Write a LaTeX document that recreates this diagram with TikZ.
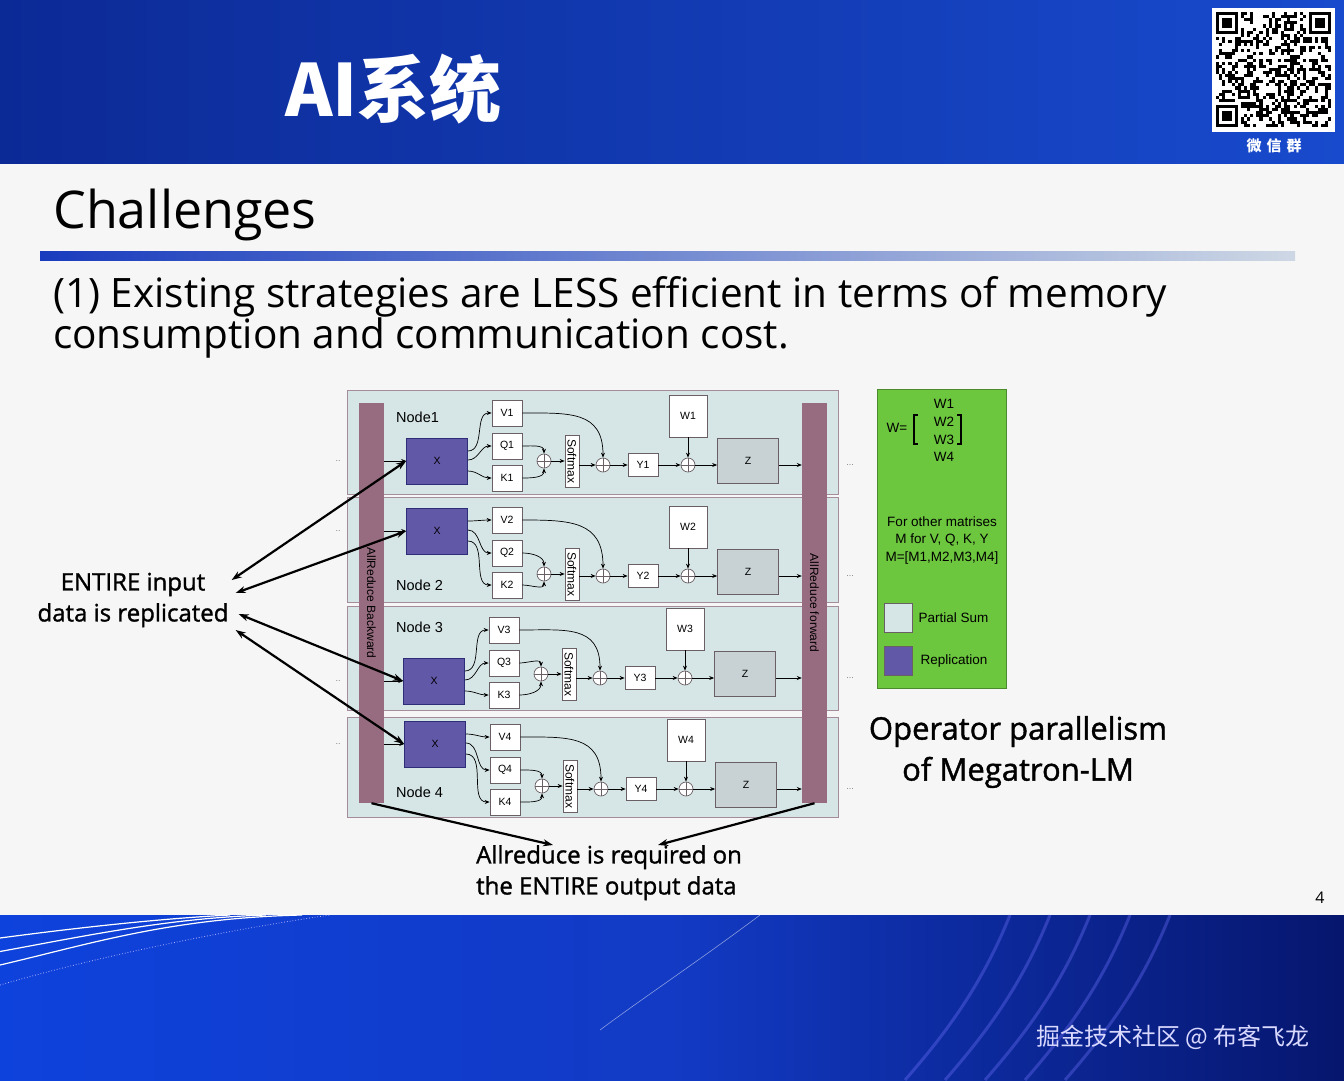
\documentclass[tikz,border=0pt]{standalone}
\usepackage{fontspec}
\setmainfont{Open Sans}
\newfontfamily\semi[FakeBold=1.3]{Open Sans}
\newfontfamily\cjk{Noto Sans CJK SC}
\newfontfamily\ar{Liberation Sans}
\usetikzlibrary{arrows.meta,positioning}
\definecolor{bannerA}{RGB}{12,42,150}
\definecolor{bannerB}{RGB}{24,74,205}
\definecolor{footA}{RGB}{14,66,220}
\definecolor{footM}{RGB}{18,58,196}
\definecolor{footB}{RGB}{6,22,110}
\definecolor{slidebg}{RGB}{246,246,246}
\definecolor{ruleA}{RGB}{25,60,190}
\definecolor{ruleB}{RGB}{205,215,228}
\definecolor{pnlF}{RGB}{214,229,229}
\definecolor{pnlD}{RGB}{165,140,155}
\definecolor{repF}{RGB}{98,88,168}
\definecolor{repD}{RGB}{45,45,120}
\definecolor{psF}{RGB}{200,210,212}
\definecolor{barF}{RGB}{152,108,128}
\definecolor{legF}{RGB}{108,198,62}
\definecolor{boxD}{RGB}{105,95,100}

\begin{document}
\begin{tikzpicture}[x=1pt,y=1pt,>={Stealth[length=5pt,width=4pt]},
  font=\ar\fontsize{10.5}{12}\selectfont,
  pnl/.style={draw=pnlD,fill=pnlF,line width=0.8pt},
  blk/.style={draw=boxD,fill=white,line width=0.7pt,inner sep=0pt,minimum width=30pt,minimum height=26pt},
  xb/.style={blk,draw=repD,fill=repF,minimum width=61pt,minimum height=46pt},
  zb/.style={blk,fill=psF,minimum width=61pt,minimum height=45pt},
  sm/.style={blk,minimum width=14pt,minimum height=52pt,font=\ar\fontsize{12}{12}\selectfont},
  pl/.style={circle,draw=boxD,fill=white,line width=0.7pt,minimum size=14pt,inner sep=0pt,
    path picture={\draw[boxD] (path picture bounding box.north)--(path picture bounding box.south)
      (path picture bounding box.west)--(path picture bounding box.east);}},
  rbar/.style={fill=barF,minimum width=25pt,minimum height=400pt,inner sep=0pt,font=\ar\fontsize{12}{12}\selectfont},
  ln/.style={line width=0.7pt,->},
  big/.style={line width=2.2pt,{Stealth[length=10pt,width=7pt]}-{Stealth[length=10pt,width=7pt]}},
  bigr/.style={line width=2.2pt,-{Stealth[length=10pt,width=7pt]}},
  note/.style={font=\semi\fontsize{24}{31}\selectfont,align=center,inner sep=0pt},
  lt/.style={font=\ar\fontsize{13.5}{17.5}\selectfont,inner sep=0pt},
  sw/.style={draw=boxD,line width=0.7pt,minimum width=28pt,minimum height=29pt},
  dt/.style={text=gray,font=\ar\fontsize{9}{9}\selectfont}]
\useasboundingbox (0,0) rectangle (1344,-1080);

% slide frame
\fill[slidebg] (0,-163) rectangle (1344,-915);
\shade[left color=bannerA,right color=bannerB] (0,0) rectangle (1344,-163);
\shade[left color=footA,right color=footB,middle color=footM] (0,-915) rectangle (1344,-1080);
\foreach \s in {0,9,18}
  \draw[white,line width=1.2pt] (0,-938-\s*1.5) .. controls (90,-926-\s) and (170,-918) .. (230+\s*4,-915);
\draw[white!70!blue,line width=0.8pt,dotted] (0,-985) .. controls (120,-950) and (260,-925) .. (330,-915);
\foreach \s in {0,40,80,120,160}
  \draw[blue!55!white,opacity=0.35,line width=3pt] (1010+\s,-915) .. controls (980+\s,-990) and (940+\s,-1040) .. (905+\s,-1080);
\draw[white,opacity=0.5,line width=0.6pt] (760,-915) .. controls (700,-960) and (640,-1000) .. (600,-1030);

\node[anchor=base west,text=white,inner sep=0pt,font=\cjk\bfseries\fontsize{72}{80}\selectfont] (hd) at (285,-116) {AI系统};

% qr block
\fill[white] (1212,-8) rectangle (1335,-132);
\pgfmathsetseed{7}
\foreach \r in {0,...,36}{
  \foreach \c in {0,...,36}{
    \pgfmathtruncatemacro\on{(rnd>0.55)*!((\r<8 && \c<8) || (\r<8 && \c>28) || (\r>28 && \c<8))}
    \ifnum\on=1 \fill[black] (1216+\c*3.1,-12-\r*3.1) rectangle ++(3.1,-3.1); \fi
  }
}
\foreach \fx/\fy in {1216/12,1309/12,1216/105}{
  \fill[black] (\fx,-\fy) rectangle ++(21.7,-21.7);
  \fill[white] (\fx+3.1,-\fy-3.1) rectangle ++(15.5,-15.5);
  \fill[black] (\fx+6.2,-\fy-6.2) rectangle ++(9.3,-9.3);
}
\node[text=white,font=\cjk\bfseries\fontsize{15}{16}\selectfont] (wx) at (1274,-146) {微\,\,信\,\,群};

% heading
\node[anchor=base west,inner sep=0pt,font=\fontsize{52}{60}\selectfont] (ttl) at (53,-228) {Challenges};
\shade[left color=ruleA,right color=ruleB] (40,-251) rectangle (1295,-260);
\node[anchor=north west,inner sep=0pt,align=left,font=\fontsize{40.5}{41.5}\selectfont] (pt1) at (53,-276)
  {(1) Existing strategies are LESS efficient in terms of memory\\consumption and communication cost.};

% node panels
\foreach \pt/\pb in {390/494,497/602,606/710,717/817}
  \draw[pnl] (347,-\pt) rectangle (838,-\pb);

\node[rbar] (lb) at (371.5,-603) {\rotatebox{-90}{AllReduce Backward}};
\node[rbar] (rb) at (814.5,-603) {\rotatebox{-90}{AllReduce forward}};

\foreach \i/\nl/\ny/\dx/\xy/\vy/\py/\yy/\wy in
  {1/Node1/417/0/461/413/461/465/416,
   2/Node 2/585/0/531/520/574/576/527,
   3/Node 3/627/-3/681/630/674/678/629,
   4/Node 4/792/-2/744/737/786/789/740}{
  \node[anchor=west,inner sep=0pt,font=\ar\fontsize{14.5}{16}\selectfont] (nl\i) at (396,-\ny) {\nl};
  \node[xb] (x\i) at (437+\dx,-\xy) {X};
  \node[blk] (v\i) at (507+\dx,-\vy) {V\i};
  \node[blk] (q\i) at (507+\dx,-\vy-33) {Q\i};
  \node[blk] (k\i) at (507+\dx,-\vy-65) {K\i};
  \node[pl] (pa\i) at (544+\dx,-\py) {};
  \node[sm] (sm\i) at (572+\dx,-\py) {\rotatebox{-90}{Softmax}};
  \node[pl] (pb\i) at (603+\dx,-\yy) {};
  \node[blk,minimum height=23pt] (y\i) at (643+\dx,-\yy) {Y\i};
  \node[pl] (pc\i) at (688+\dx,-\yy) {};
  \node[blk,minimum width=38pt,minimum height=42pt] (w\i) at (688+\dx,-\wy) {W\i};
  \node[zb] (z\i) at (748+\dx,-\yy+4) {Z};
  \node[dt] (ld\i) at (338,-\xy) {..};
  \node[dt] (rd\i) at (850,-\yy) {...};
  \draw[ln] (lb.east |- x\i) -- (x\i);
  \draw[ln] ([yshift=10pt]x\i.east) to[out=0,in=180] (v\i.west);
  \draw[ln] ([yshift=1pt]x\i.east) to[out=0,in=180] (q\i.west);
  \draw[ln] ([yshift=-10pt]x\i.east) to[out=0,in=180] (k\i.west);
  \draw[ln] (q\i.east) to[out=0,in=90] (pa\i.north);
  \draw[ln] (k\i.east) to[out=0,in=-90] (pa\i.south);
  \draw[ln] (pa\i) -- (sm\i);
  \draw[ln] (sm\i.east |- pb\i) -- (pb\i);
  \draw[ln] (v\i.east) to[out=0,in=90,looseness=1.3] (pb\i.north);
  \draw[ln] (pb\i) -- (y\i);
  \draw[ln] (y\i) -- (pc\i);
  \draw[ln] (w\i) -- (pc\i);
  \draw[ln] (pc\i) -- (z\i.west |- pc\i);
  \draw[ln] (z\i.east |- pc\i) -- (rb.west |- pc\i);
}

% legend
\node[fill=legF,draw=legF!70!black,minimum width=129pt,minimum height=299pt] (leg) at (941.5,-538.5) {};
\foreach \j/\wy in {1/404,2/422,3/440,4/457}
  \node[lt] (lw\j) at (944,-\wy) {W\j};
\node[lt] (weq) at (897,-428) {W=};
\draw[line width=1.4pt] (918,-415) -- (914,-415) -- (914,-444) -- (918,-444);
\draw[line width=1.4pt] (957,-415) -- (961,-415) -- (961,-444) -- (957,-444);
\node[lt,align=center] (lm) at (942,-540) {For other matrises\\M for V, Q, K, Y\\M=[M1,M2,M3,M4]};
\node[sw,fill=pnlF] (sps) at (898,-617.5) {};
\node[lt,right=6pt of sps] (tps) {Partial Sum};
\node[sw,fill=repF] (srp) at (898,-661) {};
\node[lt,right=8pt of srp] (trp) {Replication};

% annotations
\node[note] (rep) at (133,-600) {ENTIRE input\\data is replicated};
\draw[big] ([shift={(3pt,20pt)}]rep.east) -- (x1.west);
\draw[big] ([shift={(7pt,7pt)}]rep.east) -- (x2.west);
\draw[big] ([shift={(10pt,-14pt)}]rep.east) -- (x3.west);
\draw[big] ([shift={(7pt,-30pt)}]rep.east) -- (x4.west);
\node[note,align=left,anchor=north west] (ar) at (476,-845) {Allreduce is required on\\the ENTIRE output data};
\draw[bigr] (lb.south) -- ([xshift=77pt]ar.north west);
\draw[bigr] (rb.south) -- ([xshift=182pt]ar.north west);
\node[note,font=\semi\fontsize{31}{41}\selectfont] (op) at (1018,-752) {Operator parallelism\\of Megatron-LM};

\node[font=\fontsize{16}{18}\selectfont] (pg) at (1320,-898) {4};
\node[anchor=east,text=white!85!blue,font=\cjk\fontsize{24}{26}\selectfont] (wm) at (1313,-1037) {掘金技术社区 @ 布客飞龙};
\end{tikzpicture}
\end{document}
